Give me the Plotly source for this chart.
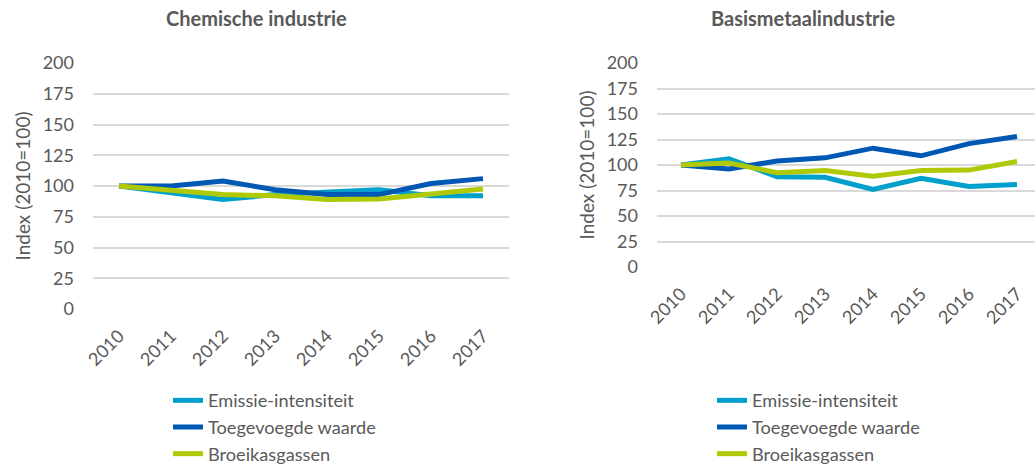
import plotly.graph_objects as go

years = ["2010", "2011", "2012", "2013", "2014", "2015", "2016", "2017"]
series_names = ["Emissie-intensiteit", "Toegevoegde waarde", "Broeikasgassen"]

# Chemische industrie
chem_emissie = [100, 95, 89, 93, 95, 97, 92, 92]
chem_toegevoegd = [100, 100, 104, 97, 93, 93, 102, 106]
chem_broeikas = [100, 96, 93, 92, 89, 89.5, 93, 97.5]

# Basismetaalindustrie
basis_emissie = [100, 106, 88.5, 88, 76, 87, 79, 81]
basis_toegevoegd = [100, 96, 104, 107, 116.5, 109, 121, 128]
basis_broeikas = [100, 102, 92.5, 94.5, 89, 94.5, 95, 103.5]

y_ticks = [0, 25, 50, 75, 100, 125, 150, 175, 200]
titles = ["Chemische industrie", "Basismetaalindustrie"]
y_title = "Index (2010=100)"

colors = ["#00A0CC", "#0058B5", "#AFCA05"]
W, H = 1035, 466
FONT = "Lato"
GRAY = "#595959"

fig = go.Figure()
for vals, name, col in zip([chem_emissie, chem_toegevoegd, chem_broeikas], series_names, colors):
    fig.add_trace(go.Scatter(x=years, y=vals, name=name, mode="lines",
                             line=dict(color=col, width=5), xaxis="x", yaxis="y",
                             legend="legend"))
for vals, name, col in zip([basis_emissie, basis_toegevoegd, basis_broeikas], series_names, colors):
    fig.add_trace(go.Scatter(x=years, y=vals, name=name, mode="lines",
                             line=dict(color=col, width=5), xaxis="x2", yaxis="y2",
                             legend="legend2"))

def px_x(p):
    return p / W

def px_y(p):
    return 1 - p / H

axis_common = dict(showline=False, zeroline=False, automargin=False,
                   tickfont=dict(family=FONT, size=18, color=GRAY))
x_common = dict(type="category", tickangle=-45, showgrid=False, ticks="",
                ticklabelstandoff=12, **axis_common)
y_common = dict(range=[0, 200], tickvals=y_ticks, showgrid=True, gridcolor="#D9D9D9",
                gridwidth=1.5, ticks="", ticklabelstandoff=18,
                title=dict(text=y_title, font=dict(family=FONT, size=19, color=GRAY), standoff=7),
                **axis_common)
legend_common = dict(xanchor="left", yanchor="top",
                     font=dict(family=FONT, size=18.2, color=GRAY), bgcolor="rgba(0,0,0,0)",
                     itemwidth=30, tracegroupgap=0)

fig.update_layout(
    width=W, height=H, margin=dict(l=0, r=0, t=0, b=0, autoexpand=False),
    paper_bgcolor="white", plot_bgcolor="white",
    font=dict(family=FONT, color=GRAY),
    xaxis=dict(domain=[px_x(93), px_x(509)], anchor="y", range=[-0.5, 7.5], **x_common),
    yaxis=dict(domain=[px_y(309), px_y(63)], anchor="x", **y_common),
    xaxis2=dict(domain=[px_x(657), 1.0], anchor="y2", range=[-0.5, 7.375], **x_common),
    yaxis2=dict(domain=[px_y(267), px_y(63)], anchor="x2", **y_common),
    legend=dict(x=px_x(168), y=px_y(382), **legend_common),
    legend2=dict(x=px_x(712), y=px_y(382), **legend_common),
    annotations=[
        dict(text="<b>" + titles[0] + "</b>", x=px_x(256), y=px_y(18), xref="paper", yref="paper",
             xanchor="center", yanchor="middle",
             showarrow=False, font=dict(family=FONT, size=20, color=GRAY)),
        dict(text="<b>" + titles[1] + "</b>", x=px_x(803), y=px_y(18), xref="paper", yref="paper",
             xanchor="center", yanchor="middle",
             showarrow=False, font=dict(family=FONT, size=20, color=GRAY)),
    ],
)

fig.write_html("out.html", config={"displayModeBar": False},
               post_script="document.body.style.margin='0';document.body.style.overflow='hidden';")
